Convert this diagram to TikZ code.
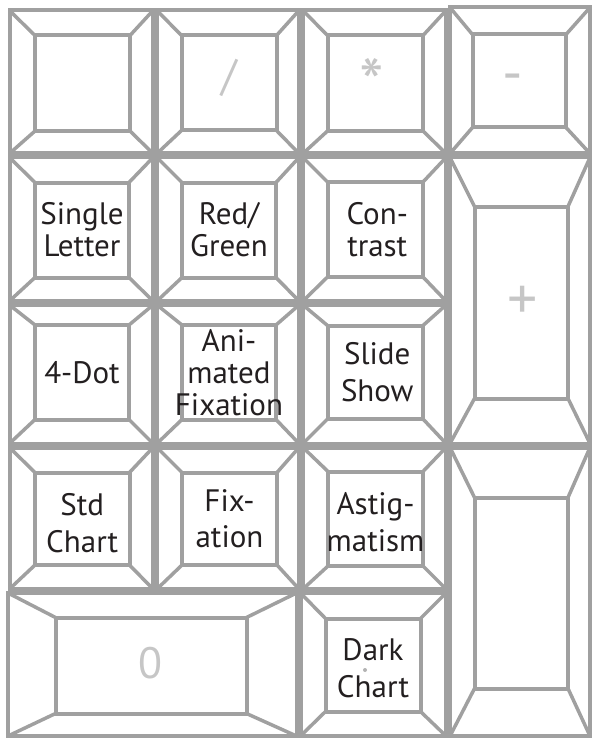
\documentclass[tikz,border=0pt]{standalone}
\usepackage{fontspec}
\setmainfont{PT Sans}
\usetikzlibrary{calc}
\definecolor{keygray}{RGB}{160,160,160}
\definecolor{glyphgray}{RGB}{198,198,198}
\definecolor{inkdark}{RGB}{35,31,32}
% one key: name, outer corners, inner corners
\newcommand\keycap[5]{%
  \coordinate (#1nw) at (#2);
  \coordinate (#1se) at (#3);
  \coordinate (#1inw) at (#4);
  \coordinate (#1ise) at (#5);
  \draw[keyrim] (#1nw) rectangle (#1se) (#1inw) rectangle (#1ise);
  \draw[keybevel] (#1nw) -- (#1inw) (#1se) -- (#1ise)
    (#1nw -| #1se) -- (#1inw -| #1ise)
    (#1nw |- #1se) -- (#1inw |- #1ise);
  \coordinate (#1) at ($(#1inw)!0.5!(#1ise)$);
}
\begin{document}
\begin{tikzpicture}[x=1pt,y=-1pt,
    keyrim/.style={draw=keygray,line width=4pt},
    keybevel/.style={draw=keygray,line width=3.5pt},
    keylabel/.style={text=inkdark,align=center,inner sep=0pt,
      font=\fontsize{31}{32}\selectfont},
    keyglyph/.style={text=glyphgray,inner sep=0pt,anchor=base,
      font=\fontsize{44}{44}\selectfont}]
  \useasboundingbox (0,0) rectangle (592,738);
  % row 1
  \keycap{knum}{9.5,10.5}{153,153.5}{35,35.5}{130,131}
  \keycap{kslash}{157,10.5}{299,153.5}{181.5,35.5}{276.5,130.5}
  \keycap{kstar}{303,10.5}{446,153.5}{327.5,35.5}{423,131}
  \keycap{kminus}{450,7.5}{590,153.5}{472.5,34.5}{566,127.5}
  % row 2
  \keycap{ksingle}{9.5,157.5}{153,301}{35,182.5}{129,277.5}
  \keycap{kredgreen}{157,157.5}{299,301}{182,182.5}{276,277.5}
  \keycap{kcontrast}{303,157.5}{446,301}{327.5,182}{423,277}
  \keycap{kplus}{450,157.5}{590,443.5}{474.5,206.5}{568,398.5}
  % row 3
  \keycap{kfourdot}{9.5,305}{153,443.5}{35,325}{129,419.5}
  \keycap{kanimated}{157,305}{299,443.5}{182,325}{276,419.5}
  \keycap{kslideshow}{303,305}{446,443.5}{327.5,325.5}{423,419}
  % row 4
  \keycap{kstd}{9.5,447.5}{153,589}{35,472.5}{129.5,565}
  \keycap{kfixation}{157,447.5}{299,589}{182,472.5}{277,565}
  \keycap{kastig}{303,447.5}{446,589}{328,471.5}{423,566}
  \keycap{kenter}{450,447.5}{590,736}{474.5,497.5}{568,688.5}
  % row 5
  \keycap{kzero}{8,593}{296.5,736}{55.5,617.5}{246.5,713.5}
  \keycap{kdark}{300.5,593}{446,736}{325.5,618.5}{420.5,711.5}
  % grey key glyphs
  \node[keyglyph] (gslash) at (kslash |- 0,91) {/};
  \node[keyglyph,font=\fontsize{70}{70}\selectfont] (gstar)
    at ([xshift=-3pt]kstar |- 0,109) {*};
  \node[keyglyph,font=\fontsize{57}{57}\selectfont] (gminus)
    at ([xshift=-6pt]kminus |- 0,93) {-};
  \node[keyglyph,font=\fontsize{60}{60}\selectfont] (gplus)
    at ([xshift=1pt]kplus |- 0,319) {+};
  \node[keyglyph] (gzero) at ([xshift=-1pt]kzero |- 0,678) {0};
  % labels
  \node[keylabel] (lsingle) at (ksingle) {Single\\Letter};
  \node[keylabel] (lredgreen) at (kredgreen) {Red/\\Green};
  \node[keylabel] (lcontrast) at ([xshift=2pt]kcontrast) {Con-\\trast};
  \node[keylabel] (lfourdot) at (kfourdot) {4-Dot};
  \node[keylabel] (lanimated) at (kanimated) {Ani-\\mated\\Fixation};
  \node[keylabel] (lslideshow) at ([xshift=2pt]kslideshow) {Slide\\[5pt]Show};
  \node[keylabel] (lstd) at ([yshift=-4pt]kstd) {Std\\[5pt]Chart};
  \node[keylabel] (lfixation) at (kfixation) {Fix-\\[4pt]ation};
  \node[keylabel] (lastig) at ([yshift=-3pt]kastig) {Astig-\\[5pt]matism};
  \node[keylabel] (ldark) at ([yshift=-3pt]kdark) {Dark\\[5pt]Chart};
  \fill[keygray!80] (365,670) circle (2pt);
\end{tikzpicture}
\end{document}
